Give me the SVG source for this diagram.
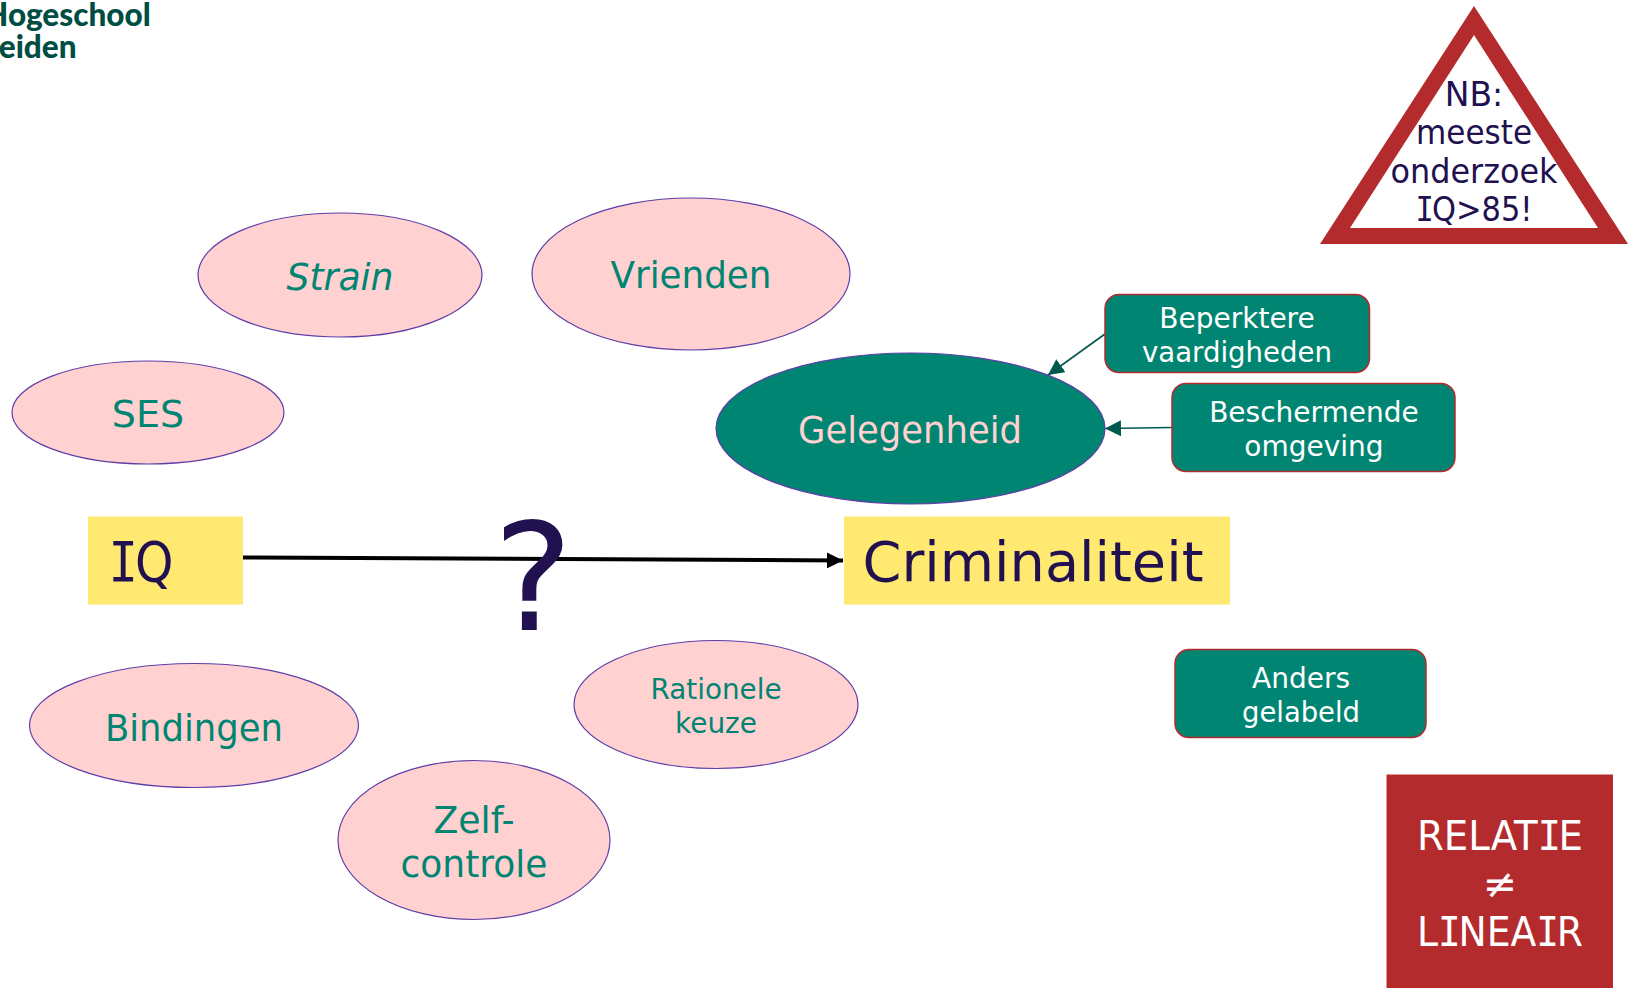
<svg xmlns="http://www.w3.org/2000/svg" width="1637" height="988" viewBox="0 0 1637 988">
<style>
text{font-family:"DejaVu Sans",Verdana,sans-serif;text-anchor:middle}
.o{fill:#ffd1d1;stroke:#5f3ea8;stroke-width:1.2}
.ot{fill:#008572}
.b{fill:#008572;stroke:#b32b2d;stroke-width:1.5}
.bt{fill:#fff;font-size:28px}
.y{fill:#ffe971}
.d{fill:#211150}
.r{fill:#b32b2d}
.m{font-family:"DejaVu Sans Mono",monospace;letter-spacing:-.06em}
.logo{fill:#004d43;font-family:"Lato","Open Sans",sans-serif;font-weight:900;font-size:31.5px;text-anchor:start}
</style>
<defs>
<marker id="ag" markerUnits="userSpaceOnUse" markerWidth="16" markerHeight="16" refX="16" refY="8" orient="auto"><path d="M0 0L16 8L0 16z" fill="#00574b"/></marker>
<marker id="ak" markerUnits="userSpaceOnUse" markerWidth="16" markerHeight="16" refX="16" refY="8" orient="auto"><path d="M0 0L16 8L0 16z" fill="#000"/></marker>
</defs>
<g id="logo"><text class="logo" x="-16" y="26">Hogeschool</text><text class="logo" x="-17" y="58">Leiden</text></g>
<g id="connectors">
<path d="M243 557.500L843 560.500" stroke="#000" stroke-width="4" fill="none" marker-end="url(#ak)"/>
<path d="M1105 334L1048 375" stroke="#00574b" stroke-width="1.6" fill="none" marker-end="url(#ag)"/>
<path d="M1172 427.500L1105 428.500" stroke="#00574b" stroke-width="1.6" fill="none" marker-end="url(#ag)"/>
</g>
<g id="n-strain"><ellipse class="o" cx="340" cy="275" rx="142" ry="62"/><text class="ot" x="340" y="290" font-size="38" font-style="italic" textLength="107" lengthAdjust="spacingAndGlyphs">Strain</text></g>
<g id="n-vrienden"><ellipse class="o" cx="691" cy="274" rx="159" ry="76"/><text class="ot" x="691" y="288" font-size="38" textLength="161" lengthAdjust="spacingAndGlyphs">Vrienden</text></g>
<g id="n-ses"><ellipse class="o" cx="148" cy="412.500" rx="136" ry="51.500"/><text class="ot" x="148" y="427" font-size="38">SES</text></g>
<g id="n-gelegenheid"><ellipse cx="910.500" cy="428.500" rx="194.500" ry="75.500" fill="#008572" stroke="#5f3ea8" stroke-width="1.2"/><text x="910" y="443" font-size="38" fill="#ffd1d1" textLength="224" lengthAdjust="spacingAndGlyphs">Gelegenheid</text></g>
<g id="n-beperktere"><rect class="b" x="1105" y="294.500" width="264.500" height="78" rx="14"/><text class="bt" x="1237" y="328">Beperktere</text><text class="bt" x="1237" y="362" textLength="190" lengthAdjust="spacingAndGlyphs">vaardigheden</text></g>
<g id="n-beschermende"><rect class="b" x="1172" y="383.500" width="283" height="88" rx="14"/><text class="bt" x="1314" y="422">Beschermende</text><text class="bt" x="1314" y="456">omgeving</text></g>
<g id="n-anders"><rect class="b" x="1175" y="649.500" width="251" height="88" rx="14"/><text class="bt" x="1301" y="688">Anders</text><text class="bt" x="1301" y="722" textLength="118" lengthAdjust="spacingAndGlyphs">gelabeld</text></g>
<g id="n-iq"><rect class="y" x="88" y="516.500" width="155" height="88"/><text class="d" x="141" y="581" font-size="56" textLength="65" lengthAdjust="spacingAndGlyphs"><tspan class="m">I</tspan>Q</text></g>
<g id="n-criminaliteit"><rect class="y" x="844" y="516.500" width="386" height="88"/><text class="d" x="1033" y="581" font-size="56" textLength="341" lengthAdjust="spacingAndGlyphs">Criminaliteit</text></g>
<g id="n-vraag"><text class="d" x="533" y="630" font-size="150">?</text></g>
<g id="n-bindingen"><ellipse class="o" cx="194" cy="725.500" rx="164.500" ry="62"/><text class="ot" x="194" y="741" font-size="38" textLength="178" lengthAdjust="spacingAndGlyphs">Bindingen</text></g>
<g id="n-rationele"><ellipse class="o" cx="716" cy="704.500" rx="142" ry="64"/><text class="ot" x="716" y="699" font-size="29" textLength="131" lengthAdjust="spacingAndGlyphs">Rationele</text><text class="ot" x="716" y="733" font-size="29" textLength="82" lengthAdjust="spacingAndGlyphs">keuze</text></g>
<g id="n-zelf"><ellipse class="o" cx="474" cy="840" rx="136" ry="79.500"/><text class="ot" x="474" y="833" font-size="38" textLength="81" lengthAdjust="spacingAndGlyphs">Zelf-</text><text class="ot" x="474" y="877" font-size="38" textLength="147" lengthAdjust="spacingAndGlyphs">controle</text></g>
<g id="n-relatie"><rect class="r" x="1386.500" y="774.500" width="226.500" height="213.500"/><text x="1500" y="850" font-size="41" fill="#fff" textLength="166" lengthAdjust="spacingAndGlyphs">RELAT<tspan class="m">I</tspan>E</text><text x="1500" y="898" font-size="41" fill="#fff">≠</text><text x="1500" y="946" font-size="41" fill="#fff" textLength="166" lengthAdjust="spacingAndGlyphs">L<tspan class="m">I</tspan>NEA<tspan class="m">I</tspan>R</text></g>
<g id="n-nb"><path fill-rule="evenodd" class="r" d="M1474 6L1628 244H1320ZM1474 35L1350 228H1598Z"/><text class="d" x="1474" y="106" font-size="33">NB:</text><text class="d" x="1474" y="144" font-size="33" textLength="116" lengthAdjust="spacingAndGlyphs">meeste</text><text class="d" x="1474" y="183" font-size="33" textLength="167" lengthAdjust="spacingAndGlyphs">onderzoek</text><text class="d" x="1474" y="221" font-size="33" textLength="117" lengthAdjust="spacingAndGlyphs"><tspan class="m">I</tspan>Q&gt;85!</text></g>
</svg>
